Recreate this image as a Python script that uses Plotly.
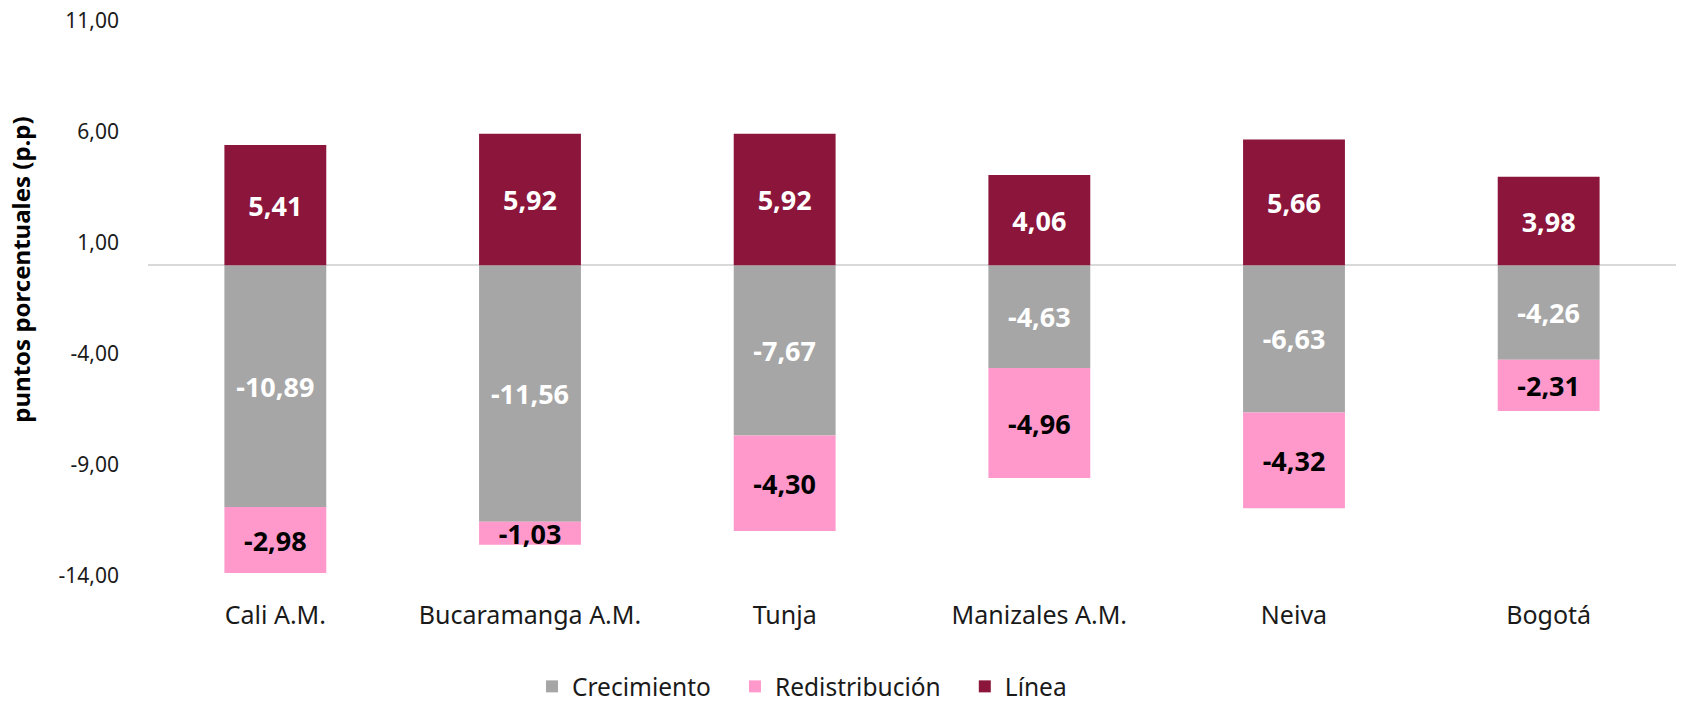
import plotly.graph_objects as go

ciudades = ['Cali A.M.', 'Bucaramanga A.M.', 'Tunja', 'Manizales A.M.', 'Neiva', 'Bogotá']
crecimiento = [-10.89, -11.56, -7.67, -4.63, -6.63, -4.26]
redistribucion = [-2.98, -1.03, -4.30, -4.96, -4.32, -2.31]
linea = [5.41, 5.92, 5.92, 4.06, 5.66, 3.98]
y_ticks = [11, 6, 1, -4, -9, -14]

colores = {
    'crecimiento': '#A6A6A6',
    'redistribucion': '#FF99CC',
    'linea': '#8B153B',
}


def etiquetas(valores):
    # decimal comma, as in the source
    return [f"{v:.2f}".replace('.', ',') for v in valores]


fig = go.Figure()

# trailing no-break spaces widen the gap between legend entries
pad = '\u00a0' * 3
series = [
    ('Crecimiento', crecimiento, colores['crecimiento'], 'white'),
    ('Redistribución', redistribucion, colores['redistribucion'], 'black'),
    ('Línea', linea, colores['linea'], 'white'),
]

for nombre, valores, color, color_texto in series:
    fig.add_trace(go.Bar(
        x=ciudades,
        y=valores,
        name=nombre + pad,
        marker=dict(color=color, line=dict(width=0)),
        text=etiquetas(valores),
        textposition='inside',
        insidetextanchor='middle',
        constraintext='none',
        textfont=dict(color=color_texto, size=27, family='Noto Sans'),
        texttemplate='<b>%{text}</b>',
        hoverinfo='skip',
    ))

fig.update_layout(
    barmode='relative',
    bargap=0.6,
    width=1681,
    height=704,
    margin=dict(l=148, r=5, t=21, b=128, autoexpand=False),
    plot_bgcolor='white',
    paper_bgcolor='white',
    separators=',.',
    font=dict(family='Noto Sans', size=20, color='#1a1a1a'),
    showlegend=True,
    legend=dict(
        orientation='h',
        x=0.2513, xanchor='left',
        y=-0.199, yanchor='middle',
        font=dict(size=24.5),
        traceorder='normal',
        itemwidth=30,
    ),
    annotations=[dict(
        text='<b>puntos porcentuales (p.p)</b>',
        xref='paper', yref='paper',
        x=-0.0831, y=0.552,
        xanchor='center', yanchor='middle',
        textangle=-90,
        showarrow=False,
        font=dict(size=24, color='#000000'),
    )],
)

fig.update_xaxes(
    showgrid=False,
    showline=False,
    ticks='',
    ticklabelstandoff=22,
    tickfont=dict(size=25),
)

fig.update_yaxes(
    range=[-14, 11],
    tickvals=y_ticks,
    ticktext=etiquetas(y_ticks),
    ticklabeloverflow='allow',
    showgrid=False,
    zeroline=True,
    zerolinecolor='#D9D9D9',
    zerolinewidth=2,
    showline=False,
    ticks='',
    ticklabelstandoff=28,
    tickfont=dict(size=21),
)

# drop the default 8px body margin so the figure fills the window
fig.write_html(
    "out.html",
    config={'displayModeBar': False},
    post_script="document.body.style.margin = '0';",
)
